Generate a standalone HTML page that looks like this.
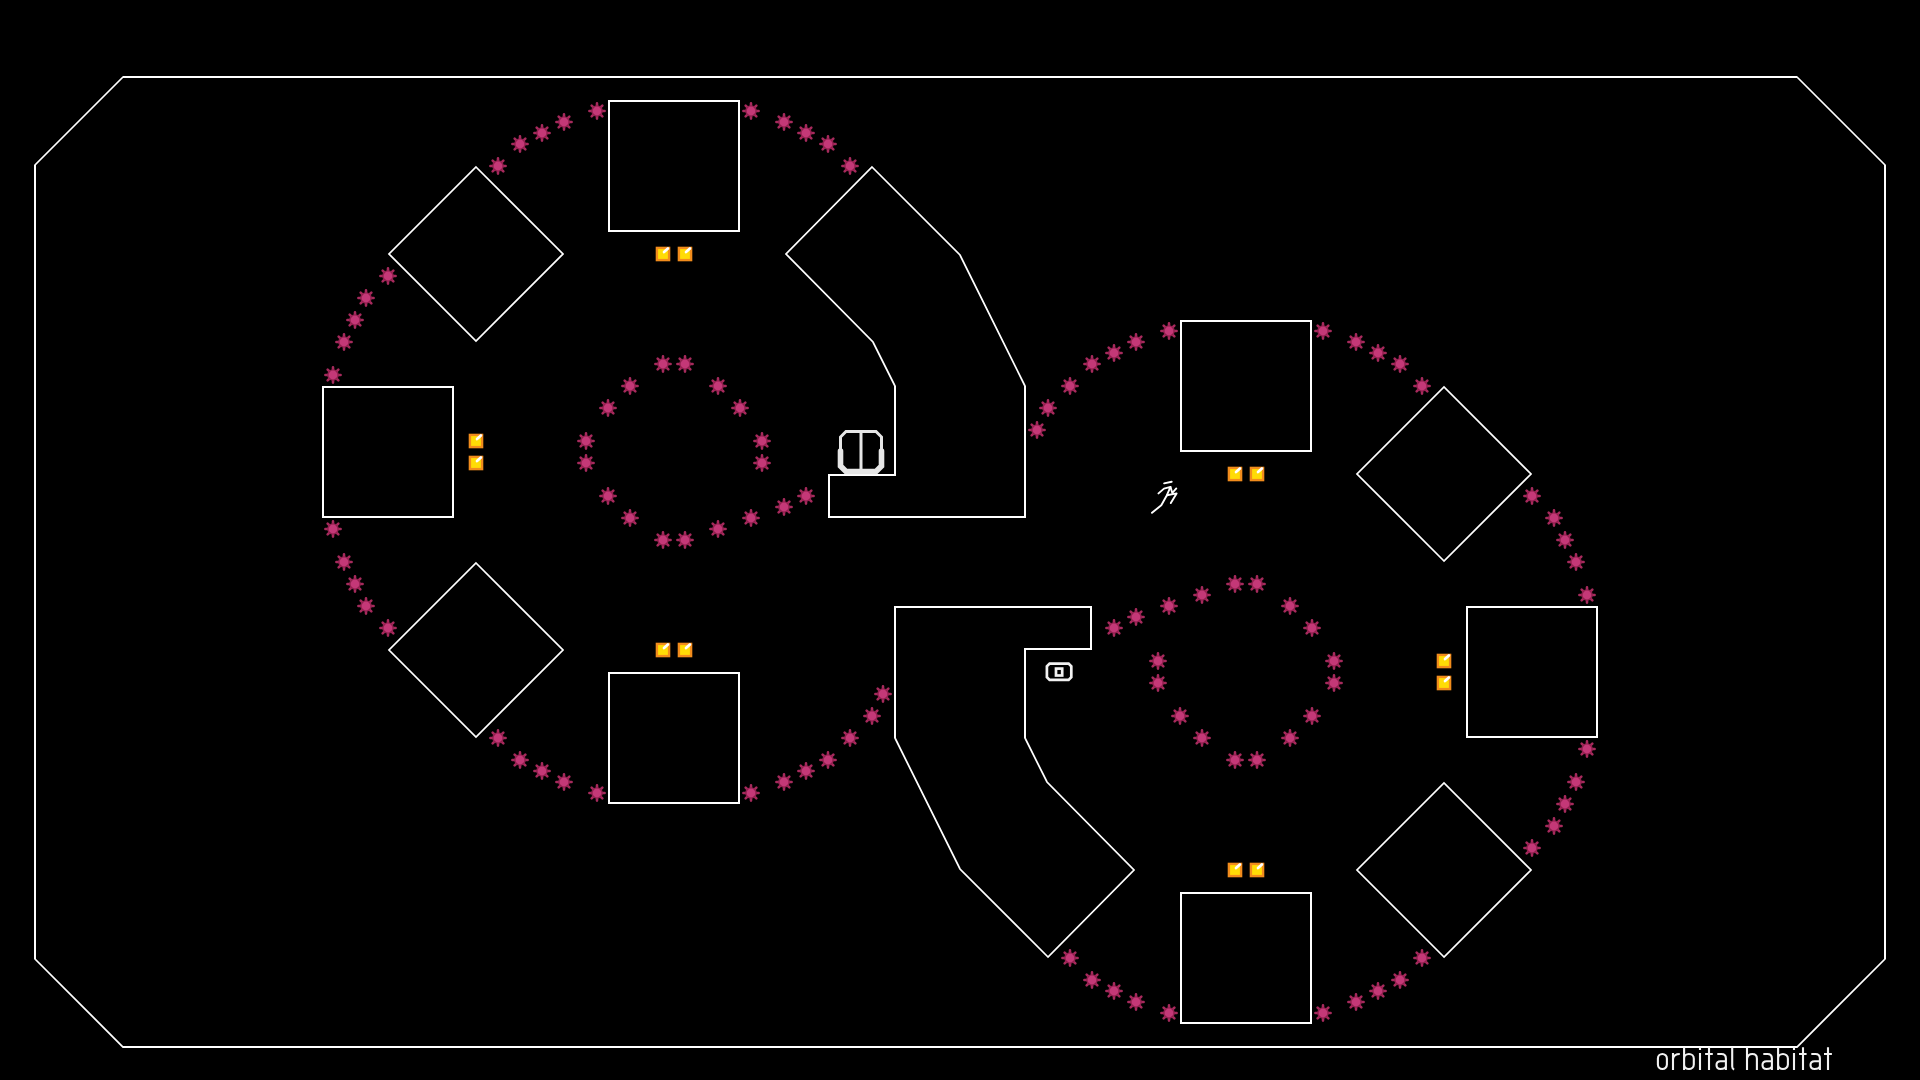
<!DOCTYPE html><html><head><meta charset="utf-8"><style>html,body{margin:0;padding:0;background:#000;width:1920px;height:1080px;overflow:hidden}svg{display:block}</style></head><body>
<svg width="1920" height="1080" viewBox="0 0 1920 1080">
<defs>
<g id="m"><g stroke="#a62a5c" stroke-width="2.6" stroke-linecap="round"><path d="M0 -5 L0 -7.6 M0 5 L0 7.6 M-5 0 L-7.6 0 M5 0 L7.6 0 M-3.55 -3.55 L-5.35 -5.35 M3.55 3.55 L5.35 5.35 M-3.55 3.55 L-5.35 5.35 M3.55 -3.55 L5.35 -5.35"/></g><circle r="5.8" fill="#92204f"/><circle r="4.4" fill="#c43877"/></g>
<g id="g"><rect x="-7.3" y="-7.3" width="14.6" height="14.6" fill="#f28c1c"/><rect x="-4.9" y="-4.9" width="9.8" height="9.8" fill="#ffdc06"/><path d="M1 -1.9 L4.9 -5.6" stroke="#fff" stroke-width="2.7" stroke-linecap="round"/></g>
</defs>
<rect width="1920" height="1080" fill="#000"/>
<path d="M123 77 L1797 77 L1885 165 L1885 959 L1797 1047 L123 1047 L35 959 L35 165 Z M609 101 L739 101 L739 231 L609 231 Z M1311 1023 L1181 1023 L1181 893 L1311 893 Z M323 387 L453 387 L453 517 L323 517 Z M1597 737 L1467 737 L1467 607 L1597 607 Z M609 673 L739 673 L739 803 L609 803 Z M1311 451 L1181 451 L1181 321 L1311 321 Z M476 167 L563 254 L476 341 L389 254 Z M1444 957 L1357 870 L1444 783 L1531 870 Z M476 563 L563 650 L476 737 L389 650 Z M1444 561 L1357 474 L1444 387 L1531 474 Z M872 167 L960 255 L1025 386 L1025 517 L829 517 L829 475 L895 475 L895 386 L873 342 L786 254 Z M1048 957 L960 869 L895 738 L895 607 L1091 607 L1091 649 L1025 649 L1025 738 L1047 782 L1134 870 Z" fill="none" stroke="#fff" stroke-width="1.75" stroke-linejoin="miter"/>
<path d="M123 77 L1797 77 M1885 165 L1885 959 M1797 1047 L123 1047 M35 959 L35 165 M608 101 L740 101 M739 100 L739 232 M740 231 L608 231 M609 232 L609 100 M1312 1023 L1180 1023 M1181 1024 L1181 892 M1180 893 L1312 893 M1311 892 L1311 1024 M322 387 L454 387 M453 386 L453 518 M454 517 L322 517 M323 518 L323 386 M1598 737 L1466 737 M1467 738 L1467 606 M1466 607 L1598 607 M1597 606 L1597 738 M608 673 L740 673 M739 672 L739 804 M740 803 L608 803 M609 804 L609 672 M1312 451 L1180 451 M1181 452 L1181 320 M1180 321 L1312 321 M1311 320 L1311 452 M1025 386 L1025 518 M1026 517 L828 517 M829 518 L829 474 M828 475 L896 475 M895 476 L895 386 M895 738 L895 606 M894 607 L1092 607 M1091 606 L1091 650 M1092 649 L1024 649 M1025 648 L1025 738" fill="none" stroke="#fff" stroke-width="2"/>
<use href="#m" x="597" y="111"/>
<use href="#m" x="564" y="122"/>
<use href="#m" x="542" y="133"/>
<use href="#m" x="520" y="144"/>
<use href="#m" x="498" y="166"/>
<use href="#m" x="388" y="276"/>
<use href="#m" x="366" y="298"/>
<use href="#m" x="355" y="320"/>
<use href="#m" x="344" y="342"/>
<use href="#m" x="333" y="375"/>
<use href="#m" x="597" y="793"/>
<use href="#m" x="564" y="782"/>
<use href="#m" x="542" y="771"/>
<use href="#m" x="520" y="760"/>
<use href="#m" x="498" y="738"/>
<use href="#m" x="388" y="628"/>
<use href="#m" x="366" y="606"/>
<use href="#m" x="355" y="584"/>
<use href="#m" x="344" y="562"/>
<use href="#m" x="333" y="529"/>
<use href="#m" x="751" y="111"/>
<use href="#m" x="784" y="122"/>
<use href="#m" x="806" y="133"/>
<use href="#m" x="828" y="144"/>
<use href="#m" x="850" y="166"/>
<use href="#m" x="751" y="793"/>
<use href="#m" x="784" y="782"/>
<use href="#m" x="806" y="771"/>
<use href="#m" x="828" y="760"/>
<use href="#m" x="850" y="738"/>
<use href="#m" x="872" y="716"/>
<use href="#m" x="883" y="694"/>
<use href="#m" x="663" y="364"/>
<use href="#m" x="685" y="364"/>
<use href="#m" x="630" y="386"/>
<use href="#m" x="718" y="386"/>
<use href="#m" x="608" y="408"/>
<use href="#m" x="740" y="408"/>
<use href="#m" x="586" y="441"/>
<use href="#m" x="586" y="463"/>
<use href="#m" x="762" y="441"/>
<use href="#m" x="762" y="463"/>
<use href="#m" x="608" y="496"/>
<use href="#m" x="630" y="518"/>
<use href="#m" x="663" y="540"/>
<use href="#m" x="685" y="540"/>
<use href="#m" x="718" y="529"/>
<use href="#m" x="751" y="518"/>
<use href="#m" x="784" y="507"/>
<use href="#m" x="806" y="496"/>
<use href="#m" x="1323" y="1013"/>
<use href="#m" x="1356" y="1002"/>
<use href="#m" x="1378" y="991"/>
<use href="#m" x="1400" y="980"/>
<use href="#m" x="1422" y="958"/>
<use href="#m" x="1532" y="848"/>
<use href="#m" x="1554" y="826"/>
<use href="#m" x="1565" y="804"/>
<use href="#m" x="1576" y="782"/>
<use href="#m" x="1587" y="749"/>
<use href="#m" x="1323" y="331"/>
<use href="#m" x="1356" y="342"/>
<use href="#m" x="1378" y="353"/>
<use href="#m" x="1400" y="364"/>
<use href="#m" x="1422" y="386"/>
<use href="#m" x="1532" y="496"/>
<use href="#m" x="1554" y="518"/>
<use href="#m" x="1565" y="540"/>
<use href="#m" x="1576" y="562"/>
<use href="#m" x="1587" y="595"/>
<use href="#m" x="1169" y="1013"/>
<use href="#m" x="1136" y="1002"/>
<use href="#m" x="1114" y="991"/>
<use href="#m" x="1092" y="980"/>
<use href="#m" x="1070" y="958"/>
<use href="#m" x="1169" y="331"/>
<use href="#m" x="1136" y="342"/>
<use href="#m" x="1114" y="353"/>
<use href="#m" x="1092" y="364"/>
<use href="#m" x="1070" y="386"/>
<use href="#m" x="1048" y="408"/>
<use href="#m" x="1037" y="430"/>
<use href="#m" x="1257" y="760"/>
<use href="#m" x="1235" y="760"/>
<use href="#m" x="1290" y="738"/>
<use href="#m" x="1202" y="738"/>
<use href="#m" x="1312" y="716"/>
<use href="#m" x="1180" y="716"/>
<use href="#m" x="1334" y="683"/>
<use href="#m" x="1334" y="661"/>
<use href="#m" x="1158" y="683"/>
<use href="#m" x="1158" y="661"/>
<use href="#m" x="1312" y="628"/>
<use href="#m" x="1290" y="606"/>
<use href="#m" x="1257" y="584"/>
<use href="#m" x="1235" y="584"/>
<use href="#m" x="1202" y="595"/>
<use href="#m" x="1169" y="606"/>
<use href="#m" x="1136" y="617"/>
<use href="#m" x="1114" y="628"/>
<use href="#g" x="663" y="254"/>
<use href="#g" x="685" y="254"/>
<use href="#g" x="476" y="441"/>
<use href="#g" x="476" y="463"/>
<use href="#g" x="663" y="650"/>
<use href="#g" x="685" y="650"/>
<use href="#g" x="1257" y="870"/>
<use href="#g" x="1235" y="870"/>
<use href="#g" x="1444" y="683"/>
<use href="#g" x="1444" y="661"/>
<use href="#g" x="1257" y="474"/>
<use href="#g" x="1235" y="474"/>
<g fill="none" stroke="#e6e6e6" stroke-linejoin="miter"><path d="M840.5 449 L840.5 437 L846 431.5 L876 431.5 L881.5 437 L881.5 449" stroke-width="3"/><path d="M861 431.5 L861 469" stroke-width="3"/><path d="M840.5 451 L840.5 466 L846 471.5 L876 471.5 L881.5 466 L881.5 451" stroke-width="5.6" stroke-linecap="round"/></g>
<g fill="none" stroke="#f2f2f2"><path d="M1049.6 663.6 L1068.6 663.6 L1071.3 666.3 L1071.3 677.2 L1068.6 679.9 L1049.6 679.9 L1046.9 677.2 L1046.9 666.3 Z" stroke-width="2.7"/><rect x="1056" y="668.6" width="6.2" height="6.9" stroke-width="2.7"/></g>
<g fill="none" stroke="#fff" stroke-width="1.9" stroke-linecap="round" stroke-linejoin="round"><path d="M1164.1 483.4 L1171.7 481.8"/><path d="M1158.5 493.4 L1164 488.6 L1170.5 486.9 L1166.9 495.2 L1161.3 505.2 L1152 512.8"/><path d="M1166.9 495.2 L1176.6 493.4 L1170.8 503.1"/><path d="M1170.5 487 L1172.3 493 L1176.3 488.4"/></g>
<path d="M1657.9 1058.5 A4.5 4.5 0 0 1 1666.9 1058.5 L1666.9 1064.5 A4.5 4.5 0 0 1 1657.9 1064.5 Z M1673 1053 L1673 1070 M1673 1058.8 Q1673.8 1054 1679.8 1054 M1684.1 1047.5 L1684.1 1070 M1684.1 1058.5 A4.85 4.5 0 0 1 1693.8 1058.5 L1693.8 1064.5 A4.85 4.5 0 0 1 1684.1 1064.5 M1700 1047.5 L1700 1050 M1700 1053 L1700 1070 M1709 1047.5 L1709 1070 M1705.1 1054 L1712.8 1054 M1717.3 1054 L1721.4 1054 Q1725.9 1054 1725.9 1058.5 L1725.9 1070 M1725.9 1061.3 L1720.6 1061.3 Q1716.5 1061.3 1716.5 1065.1 Q1716.5 1069 1720.6 1069 Q1725.2 1069 1725.9 1066.3 M1732.2 1047.5 L1732.2 1066.5 Q1732.3 1069 1734.2 1069.6 M1747 1047.5 L1747 1070 M1747 1058.8 Q1747.8 1054 1752.3 1054 Q1756.9 1054 1756.9 1058.5 L1756.9 1070 M1763.3 1054 L1767.4 1054 Q1771.9 1054 1771.9 1058.5 L1771.9 1070 M1771.9 1061.3 L1766.6 1061.3 Q1762.5 1061.3 1762.5 1065.1 Q1762.5 1069 1766.6 1069 Q1771.2 1069 1771.9 1066.3 M1778.1 1047.5 L1778.1 1070 M1778.1 1058.5 A4.9 4.5 0 0 1 1787.9 1058.5 L1787.9 1064.5 A4.9 4.5 0 0 1 1778.1 1064.5 M1794 1047.5 L1794 1050 M1794 1053 L1794 1070 M1803 1047.2 L1803 1070 M1799 1054 L1806.6 1054 M1811.3 1054 L1815.4 1054 Q1819.9 1054 1819.9 1058.5 L1819.9 1070 M1819.9 1061.3 L1814.6 1061.3 Q1810.5 1061.3 1810.5 1065.1 Q1810.5 1069 1814.6 1069 Q1819.2 1069 1819.9 1066.3 M1828 1047.2 L1828 1070 M1824 1054 L1831.9 1054" fill="none" stroke="#f2f2f2" stroke-width="2.1"/>
</svg></body></html>
